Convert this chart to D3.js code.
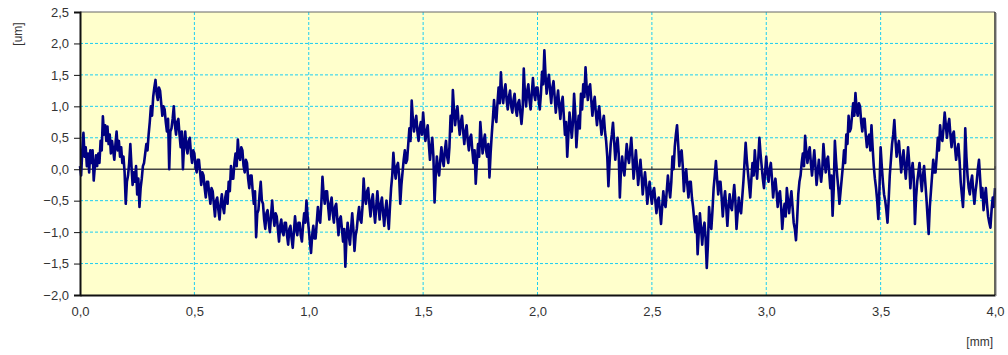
<!DOCTYPE html>
<html>
<head>
<meta charset="utf-8">
<script src="https://cdn.jsdelivr.net/npm/d3@7"></script>
<style>
  body { margin: 0; background: #fff; }
  text { font-family: "Liberation Sans", Arial, sans-serif; fill: #333; }
</style>
</head>
<body>
<svg id="chart" width="1008" height="355"></svg>
<script>
// profile, one value every 0.005 mm (10 values per row = 0.05 mm)
const xStep = 0.005;
const profile = [
  0.05, -0.10, 0.30, 0.58, 0.20, 0.35, 0.05, 0.25, -0.05, 0.30,
  0.10, 0.30, -0.18, 0.05, 0.22, 0.05, 0.25, 0.10, 0.45, 0.30,
  0.84, 0.55, 0.70, 0.45, 0.68, 0.40, 0.55, 0.25, 0.45, 0.30,
  0.15, 0.40, 0.60, 0.30, 0.45, 0.20, 0.35, 0.10, 0.20, -0.05,
  -0.55, -0.20, -0.10, 0.10, 0.40, 0.05, -0.25, -0.05, -0.20, 0.05,
  -0.40, -0.15, -0.60, -0.30, -0.15, 0.05, 0.10, 0.25, 0.40, 0.30,
  0.55, 0.75, 1.00, 0.85, 1.15, 1.30, 1.42, 1.20, 1.10, 1.30,
  1.25, 1.05, 0.85, 1.00, 0.95, 0.75, 0.60, 0.80, 0.00, 0.60,
  0.65, 0.80, 1.00, 0.70, 0.55, 0.75, 0.80, 0.55, 0.35, 0.60,
  0.00, 0.40, 0.60, 0.35, 0.25, 0.45, 0.50, 0.25, 0.10, 0.30,
  0.25, 0.05, -0.05, 0.15, 0.15, -0.05, -0.25, -0.05, -0.10, -0.30,
  -0.45, -0.20, -0.20, -0.40, -0.55, -0.30, -0.35, -0.55, -0.75, -0.50,
  -0.45, -0.65, -0.80, -0.55, -0.40, -0.60, -0.70, -0.45, -0.35, -0.55,
  -0.20, -0.35, 0.05, -0.15, -0.15, 0.10, 0.25, 0.05, 0.47, 0.20,
  0.15, 0.35, 0.30, 0.05, -0.05, 0.15, 0.10, -0.15, -0.30, -0.10,
  -0.10, -0.35, -0.55, -0.35, -1.08, -0.70, -0.65, -0.40, -0.20, -0.50,
  -0.55, -0.80, -0.95, -0.70, -0.65, -0.85, -1.00, -0.75, -0.50, -0.75,
  -0.90, -0.70, -0.75, -0.95, -1.15, -0.90, -0.80, -1.00, -1.05, -0.85,
  -0.85, -1.05, -1.20, -0.95, -0.90, -1.10, -1.25, -1.00, -0.75, -0.95,
  -1.05, -0.85, -0.85, -1.05, -1.15, -0.90, -0.70, -0.85, -0.50, -0.75,
  -0.95, -1.15, -1.33, -1.05, -0.90, -1.10, -1.10, -0.85, -0.60, -0.80,
  -0.85, -0.55, -0.12, -0.40, -0.55, -0.35, -0.35, -0.60, -0.80, -0.55,
  -0.45, -0.70, -0.85, -0.60, -0.55, -0.80, -1.05, -0.80, -0.75, -0.95,
  -1.15, -0.95, -1.55, -1.10, -0.85, -1.05, -1.20, -0.95, -0.70, -0.95,
  -1.30, -1.05, -0.95, -0.75, -0.60, -0.80, -0.85, -0.60, -0.15, -0.45,
  -0.55, -0.35, -0.30, -0.55, -0.75, -0.50, -0.40, -0.65, -0.85, -0.60,
  -0.35, -0.60, -0.80, -0.55, -0.45, -0.70, -0.90, -0.65, -0.50, -0.75,
  -0.95, -0.60, -0.30, -0.10, 0.26, 0.00, -0.15, 0.05, 0.10, -0.10,
  -0.55, -0.25, -0.05, 0.15, 0.30, 0.10, 0.15, 0.40, 0.65, 0.45,
  1.09, 0.80, 0.60, 0.75, 0.85, 0.60, 0.45, 0.65, 0.75, 0.55,
  0.90, 0.65, 0.45, 0.60, 0.70, 0.40, 0.15, 0.35, 0.50, 0.20,
  -0.53, -0.10, 0.20, 0.00, -0.10, 0.15, 0.35, 0.15, 0.05, 0.30,
  0.45, 0.20, 0.10, 0.35, 0.85, 0.60, 1.26, 0.95, 0.70, 0.90,
  1.00, 0.75, 0.55, 0.75, 0.85, 0.60, 0.40, 0.60, 0.70, 0.45,
  0.30, 0.50, 0.55, 0.30, 0.10, 0.30, -0.23, 0.10, 0.40, 0.20,
  0.75, 0.50, 0.25, 0.45, 0.55, 0.30, 0.20, 0.40, -0.13, 0.25,
  0.55, 0.80, 1.10, 0.85, 0.75, 1.05, 1.30, 1.05, 1.54, 1.20,
  1.05, 1.25, 1.35, 1.10, 0.95, 1.15, 1.25, 1.00, 0.90, 1.10,
  1.20, 0.95, 0.85, 1.05, 1.10, 0.90, 0.72, 0.95, 1.60, 1.20,
  1.00, 1.25, 1.35, 1.10, 0.95, 1.20, 1.45, 1.20, 1.10, 1.30,
  1.30, 1.10, 0.95, 1.20, 1.55, 1.35, 1.89, 1.50, 1.20, 1.40,
  1.50, 1.25, 1.05, 1.30, 1.40, 1.15, 0.90, 1.10, 1.25, 1.00,
  0.80, 1.05, 1.15, 0.85, 0.55, 0.75, 0.20, 0.55, 0.90, 0.70,
  0.50, 0.75, 1.20, 0.90, 0.35, 0.65, 0.85, 0.65, 1.20, 0.95,
  1.35, 1.15, 1.62, 1.30, 1.10, 1.30, 1.35, 1.10, 0.85, 1.05,
  1.15, 0.90, 0.70, 0.90, 1.00, 0.75, 0.55, 0.75, 0.85, 0.60,
  0.45, 0.20, -0.27, 0.10, 0.40, 0.55, 0.74, 0.45, 0.15, 0.35,
  0.50, 0.25, -0.45, 0.00, 0.20, 0.00, -0.10, 0.15, 0.40, 0.20,
  0.10, 0.30, 0.50, 0.20, -0.15, 0.05, 0.30, 0.05, -0.25, -0.05,
  0.15, -0.10, -0.40, -0.20, -0.05, -0.25, -0.55, -0.35, -0.20, -0.40,
  -0.55, -0.35, -0.30, -0.50, -0.70, -0.50, -0.45, -0.65, -0.87, -0.60,
  -0.35, -0.55, -0.60, -0.35, -0.10, -0.30, -0.45, -0.20, 0.20, 0.00,
  0.35, 0.55, 0.70, 0.40, 0.05, 0.25, 0.30, 0.05, -0.35, -0.10,
  0.00, -0.25, -0.45, -0.20, -0.20, -0.45, -0.60, -0.80, -1.00, -0.75,
  -1.35, -1.00, -0.70, -0.95, -1.20, -0.95, -0.85, -1.10, -1.57, -1.20,
  -0.60, -0.85, -0.95, -0.65, -0.30, -0.10, 0.13, -0.15, -0.40, -0.20,
  -0.20, -0.45, -0.75, -0.50, -0.35, -0.60, -0.90, -0.60, -0.40, -0.60,
  -0.65, -0.45, -0.25, -0.50, -0.95, -0.70, -0.45, -0.65, -0.70, -0.45,
  -0.20, 0.10, 0.42, 0.15, -0.05, -0.25, -0.45, -0.15, 0.10, -0.10,
  0.30, 0.05, -0.15, 0.15, 0.50, 0.25, 0.05, -0.15, -0.30, -0.05,
  0.20, -0.05, -0.20, 0.00, 0.10, -0.15, -0.45, -0.25, -0.15, -0.35,
  -0.60, -0.40, -0.35, -0.60, -0.95, -0.70, -0.55, -0.75, -0.30, -0.50,
  -0.70, -0.50, -0.35, -0.60, -0.85, -0.95, -1.13, -0.80, -0.40, -0.20,
  -0.10, 0.10, 0.25, 0.05, 0.53, 0.30, 0.10, 0.25, 0.35, 0.10,
  -0.10, 0.10, 0.30, 0.05, -0.25, -0.05, 0.15, -0.05, -0.20, 0.00,
  0.40, 0.15, -0.05, 0.15, 0.20, -0.05, -0.30, -0.10, -0.74, -0.30,
  0.45, 0.15, -0.10, -0.30, -0.55, -0.35, -0.15, 0.05, 0.30, 0.10,
  0.55, 0.40, 0.85, 0.60, 0.65, 0.85, 1.05, 0.85, 1.21, 0.95,
  0.85, 1.05, 1.00, 0.75, 0.60, 0.80, 0.80, 0.55, 0.35, 0.50,
  0.55, 0.30, 0.70, 0.35, 0.05, -0.15, -0.30, -0.50, -0.79, -0.30,
  0.35, 0.05, -0.20, -0.40, -0.50, -0.65, -0.85, -0.50, -0.10, 0.15,
  0.40, 0.55, 0.78, 0.45, 0.20, 0.35, 0.45, 0.20, -0.05, 0.15,
  0.30, 0.05, -0.15, 0.10, 0.35, 0.10, -0.30, -0.05, 0.10, -0.15,
  -0.87, -0.45, -0.20, -0.05, 0.10, -0.15, -0.35, -0.10, 0.05, -0.20,
  -0.45, -0.75, -1.03, -0.60, -0.35, -0.10, 0.15, -0.05, -0.05, 0.20,
  0.50, 0.30, 0.70, 0.50, 0.45, 0.65, 0.90, 0.70, 0.50, 0.70,
  0.80, 0.55, 0.35, 0.55, 0.60, 0.35, 0.15, 0.30, 0.40, 0.15,
  -0.20, -0.40, -0.60, -0.20, 0.65, 0.20, -0.10, -0.30, -0.40, -0.20,
  -0.10, -0.35, -0.55, -0.35, -0.20, 0.00, 0.15, -0.15, -0.45, -0.30,
  -0.65, -0.45, -0.30, -0.55, -0.75, -0.85, -0.93, -0.65, -0.45, -0.60,
  -0.30
];
const xTicks = [0, 0.5, 1, 1.5, 2, 2.5, 3, 3.5, 4];
const yTicks = [-2, -1.5, -1, -0.5, 0, 0.5, 1, 1.5, 2, 2.5];
const xUnit = '[mm]';
const yUnit = '[um]';

const plotL = 80, plotR = 995, plotT = 12, plotB = 295;
const svg = d3.select('#chart');
const fmt = d => d3.format('.1f')(d).replace('.', ',');

const x = d3.scaleLinear().domain([0, 4]).range([plotL, plotR]);
const y = d3.scaleLinear().domain([-2, 2.5]).range([plotB, plotT]);

// plot background
svg.append('rect')
  .attr('x', plotL).attr('y', plotT)
  .attr('width', plotR - plotL).attr('height', plotB - plotT)
  .attr('fill', '#ffffcc');

// dashed grid
svg.append('g')
  .selectAll('line')
  .data(yTicks.filter(d => d !== 0 && d !== -2 && d !== 2.5))
  .join('line')
  .attr('x1', plotL).attr('x2', plotR)
  .attr('y1', d => y(d)).attr('y2', d => y(d))
  .attr('stroke', '#1ccdf2').attr('stroke-dasharray', '3,2');
svg.append('g')
  .selectAll('line')
  .data(xTicks.filter(d => d !== 0 && d !== 4))
  .join('line')
  .attr('x1', d => x(d)).attr('x2', d => x(d))
  .attr('y1', plotT).attr('y2', plotB)
  .attr('stroke', '#1ccdf2').attr('stroke-dasharray', '3,2');

// zero line with small ticks
svg.append('line')
  .attr('x1', plotL).attr('x2', plotR)
  .attr('y1', y(0)).attr('y2', y(0))
  .attr('stroke', '#444').attr('stroke-width', 1.5);
svg.append('g')
  .selectAll('line')
  .data(xTicks)
  .join('line')
  .attr('x1', d => x(d)).attr('x2', d => x(d))
  .attr('y1', y(0) - 3).attr('y2', y(0))
  .attr('stroke', '#444');

// profile line
const line = d3.line()
  .x((d, i) => x(i * xStep))
  .y(d => y(d));
svg.append('path')
  .datum(profile)
  .attr('d', line)
  .attr('fill', 'none')
  .attr('stroke', '#000080')
  .attr('stroke-width', 2.6)
  .attr('stroke-linejoin', 'round');

// frame
svg.append('line').attr('x1', plotL).attr('x2', plotR).attr('y1', plotT).attr('y2', plotT)
  .attr('stroke', '#666');
svg.append('line').attr('x1', plotR).attr('x2', plotR).attr('y1', plotT).attr('y2', plotB)
  .attr('stroke', '#333').attr('stroke-width', 1.5);
svg.append('line').attr('x1', plotR + 1.5).attr('x2', plotR + 1.5).attr('y1', plotT + 1).attr('y2', plotB + 1)
  .attr('stroke', '#bbb');

// axes
const yAxis = svg.append('g')
  .attr('transform', `translate(${plotL},0)`)
  .call(d3.axisLeft(y).tickValues(yTicks).tickFormat(fmt).tickSize(6).tickPadding(5));
yAxis.select('.domain').attr('stroke', '#111').attr('stroke-width', 2);
yAxis.selectAll('.tick line').attr('stroke', '#111');

const xAxis = svg.append('g')
  .attr('transform', `translate(0,${plotB})`)
  .call(d3.axisBottom(x).tickValues(xTicks).tickFormat(fmt).tickSize(0).tickPadding(12));
xAxis.select('.domain').attr('stroke', '#111').attr('stroke-width', 2);
svg.selectAll('.tick text').attr('font-size', 13).attr('fill', '#333')
  .style('font-family', '"Liberation Sans", Arial, sans-serif');

// unit labels
svg.append('text')
  .attr('transform', 'translate(22,34) rotate(-90)')
  .attr('text-anchor', 'middle')
  .attr('font-size', 12)
  .text(yUnit);
svg.append('text')
  .attr('x', 993).attr('y', 346)
  .attr('text-anchor', 'end')
  .attr('font-size', 12)
  .text(xUnit);
</script>
</body>
</html>
